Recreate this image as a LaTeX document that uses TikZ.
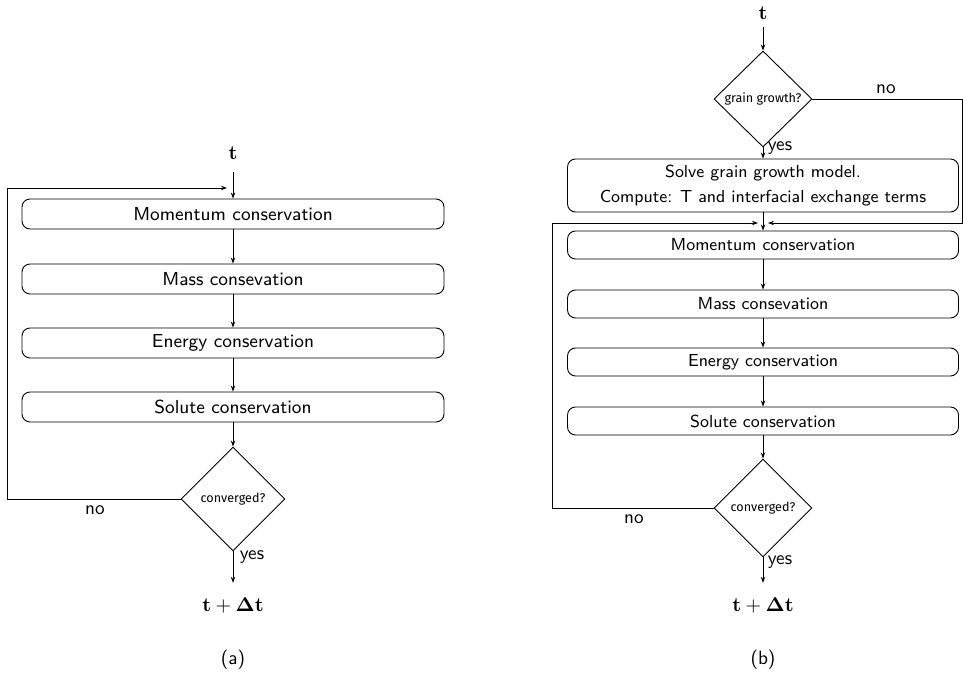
\documentclass[tikz,border=0pt]{standalone}
\usepackage[no-math]{fontspec}
\newfontfamily\dfont{Fira Sans}
\usetikzlibrary{shapes.geometric,arrows.meta}
\begin{document}
\begin{tikzpicture}[x=0.5pt,y=-0.5pt,
  >={Stealth[length=3pt,width=2.2pt]},
  line width=0.45pt,
  boxa/.style={draw, rounded corners=4pt, minimum width=211pt, minimum height=15pt, inner sep=0pt, font=\sffamily\fontsize{9.4}{10}\selectfont},
  boxb/.style={draw, rounded corners=4pt, minimum width=195.5pt, minimum height=14pt, inner sep=0pt, font=\sffamily\fontsize{8.7}{12.5}\selectfont},
  dec/.style={draw, diamond, aspect=1, inner sep=0pt, font=\dfont\fontsize{6.3}{7}\selectfont},
  lbl/.style={font=\sffamily\fontsize{9.6}{11}\selectfont, inner sep=0pt},
  mth/.style={font=\fontsize{10.3}{12}\selectfont, inner sep=0pt}]
\useasboundingbox (0,0) rectangle (963,673);

% ---------- (a) ----------
\node[mth] (ta) at (233,153) {$\mathbf{t}$};
\node[boxa] (a1) at (233,214) {Momentum conservation};
\node[boxa] (a2) at (233,279) {Mass consevation};
\node[boxa] (a3) at (233,343) {Energy conservation};
\node[boxa] (a4) at (233,407) {Solute conservation};
\node[dec, minimum width=52pt, minimum height=52pt] (ca) at (233,499) {converged?};
\node[mth] (tda) at (233,605) {$\mathbf{t}+\mathbf{\Delta t}$};
\node[lbl] (capa) at (233,660) {(a)};
\node[lbl] (noa) at (95,510) {no};
\node[lbl] (yesa) at (252,557) {yes};
\coordinate (la) at (227,188);

\draw[->, shorten <=6pt] (ta) -- (a1);
\draw[->] (a1) -- (a2);
\draw[->] (a2) -- (a3);
\draw[->] (a3) -- (a4);
\draw[->] (a4) -- (ca);
\draw[->, shorten >=7pt] (ca) -- (tda);
\draw[->] (ca.west) -- ++(-173,0) |- (la);

% ---------- (b) ----------
\node[mth] (tb) at (763,13) {$\mathbf{t}$};
\node[dec, minimum width=49pt, minimum height=48pt] (gg) at (763,99) {grain growth?};
\node[boxb, minimum height=26.5pt, align=center] (sg) at (763,185.5) {Solve grain growth model.\\Compute: T and interfacial exchange terms};
\node[boxb] (b1) at (763,245) {Momentum conservation};
\node[boxb] (b2) at (763,304) {Mass consevation};
\node[boxb] (b3) at (763,362) {Energy conservation};
\node[boxb] (b4) at (763,421) {Solute conservation};
\node[dec, minimum width=49pt, minimum height=49pt] (cb) at (763,508) {converged?};
\node[mth] (tdb) at (763,605) {$\mathbf{t}+\mathbf{\Delta t}$};
\node[lbl] (capb) at (763,660) {(b)};
\node[lbl] (nob1) at (886,89) {no};
\node[lbl] (yesb1) at (780,148) {yes};
\node[lbl] (nob2) at (634,519) {no};
\node[lbl] (yesb2) at (780,562) {yes};
\coordinate (rb) at (768,223);
\coordinate (lb) at (758,223);

\draw[->, shorten <=3.5pt] (tb) -- (gg);
\draw[->] (gg) -- (sg);
\draw[->] (sg) -- (b1);
\draw[->] (b1) -- (b2);
\draw[->] (b2) -- (b3);
\draw[->] (b3) -- (b4);
\draw[->] (b4) -- (cb);
\draw[->, shorten >=7pt] (cb) -- (tdb);
\draw[->] (gg.east) -- ++(150,0) |- (rb);
\draw[->] (cb.west) -- ++(-161,0) |- (lb);
\end{tikzpicture}
\end{document}
